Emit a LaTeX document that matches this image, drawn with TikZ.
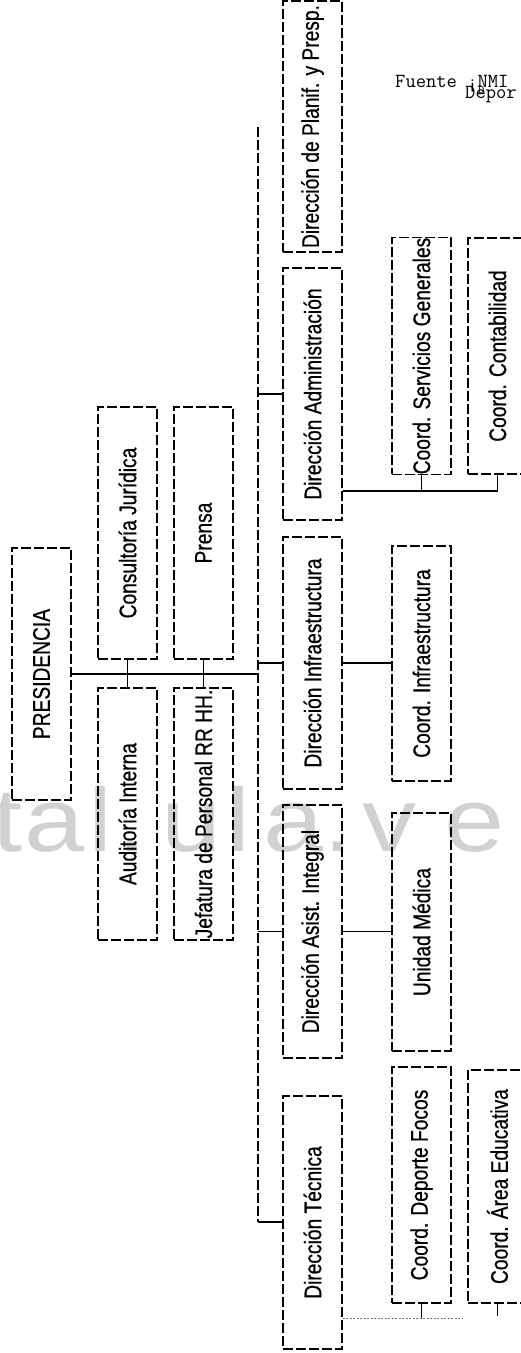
\documentclass[tikz,border=0pt]{standalone}
\usepackage{fontspec}
\setmainfont{Liberation Sans}
\newfontfamily\boxfont[FakeStretch=0.8,FakeBold=0.6]{Liberation Sans}
\newfontfamily\wmfont[FakeStretch=1.2]{Liberation Sans}
\newcommand\orgbox[6]{\node[box, minimum width={(#4)-(#2)}, minimum height={(#5)-(#3)}] (#1) at ({((#2)+(#4))/2},{((#3)+(#5))/2}) {\rotatebox{90}{#6}};}
\begin{document}
\begin{tikzpicture}[x=1pt,y=-1pt,
  box/.style={draw, dash pattern=on 10pt off 3pt, line width=1.2pt, inner sep=0pt,
    font=\boxfont\fontsize{24}{24}\selectfont},
  conn/.style={line width=1.4pt},
  busline/.style={line width=1.2pt, dash pattern=on 10pt off 3pt},
  wm/.style={anchor=base west, inner sep=0pt, text=black!18, font=\wmfont\fontsize{90}{90}\selectfont},
  src/.style={anchor=base west, inner sep=0pt, font=\ttfamily\addfontfeature{FakeBold=1.2}\fontsize{20}{20}\selectfont}]
\useasboundingbox (0,0) rectangle (521,1353);
\clip (0,0) rectangle (521,1353);
\fill[white] (0,0) rectangle (521,1353);
% watermark
\node[wm] (w1) at (-8,851) {t};
\node[wm] (w2) at (24,851) {a};
\node[wm] (w3) at (88,851) {l};
\node[wm] (w4) at (117,851) {.};
\node[wm] (w5) at (161,851) {u};
\node[wm] (w6) at (226,851) {l};
\node[wm] (w7) at (263,851) {a};
\node[wm] (w8) at (323,851) {.};
\node[wm] (w9) at (362,851) {v};
\node[wm] (w10) at (444,851) {e};
% source note
\node[src] (src1) at (395,87) {Fuente ¡NMI};
\node[src] (src2) at (465,98) {Depor};
\node[anchor=base west, inner sep=0pt, font=\ttfamily\fontsize{12}{12}\selectfont] (src3) at (478,93) {D};
% boxes
\orgbox{planif}{283}{1}{342}{252}{Dirección de Planif. y Presp.}
\orgbox{admin}{283}{268}{342}{520}{Dirección Administración}
\orgbox{servgen}{392}{238}{451}{474}{Coord. Servicios Generales}
\orgbox{contab}{468}{238}{527}{474}{Coord. Contabilidad}
\orgbox{presid}{12}{548}{71}{800}{PRESIDENCIA}
\orgbox{consult}{98}{407}{157}{659}{Consultoría Jurídica}
\orgbox{prensa}{174}{407}{233}{659}{Prensa}
\orgbox{audit}{98}{688}{157}{940}{Auditoría Interna}
\orgbox{jefat}{174}{688}{233}{940}{Jefatura de Personal RR HH.}
\orgbox{infra}{283}{537}{342}{789}{Dirección Infraestructura}
\orgbox{coordinfra}{392}{546}{451}{781}{Coord. Infraestructura}
\orgbox{asist}{283}{805}{342}{1058}{Dirección Asist. Integral}
\orgbox{unidad}{392}{813}{451}{1051}{Unidad Médica}
\orgbox{tecnica}{283}{1096}{342}{1349}{Dirección Técnica}
\orgbox{deporte}{392}{1067}{451}{1303}{Coord. Deporte Focos}
\orgbox{educ}{468}{1070}{527}{1303}{Coord. Área Educativa}
% bus
\coordinate (bustop) at (258,127);
\coordinate (busbot) at (258,1222);
\draw[busline] (bustop) -- (busbot);
\draw[conn] (bustop |- admin.west) -- (admin.west);
\draw[conn] (presid.east) -- (bustop |- presid.east);
\draw[conn] (consult.south) -- (audit.north);
\draw[conn] (prensa.south) -- (jefat.north);
\draw[conn] (bustop |- infra.west) -- (infra.west);
\draw[conn] (infra.east) -- (coordinfra.west |- infra.east);
\draw[conn] (bustop |- asist.west) -- (asist.west);
\draw[conn] (asist.east) -- (unidad.west |- asist.east);
\draw[conn] (busbot) -- (tecnica.west |- busbot);
% administration branch
\coordinate (aj) at (421.5,491);
\draw[conn] (admin.east |- aj) -- (contab.south |- aj);
\draw[conn] (servgen.south) -- (servgen.south |- aj);
\draw[conn] (contab.south) -- (contab.south |- aj);
% technical branch
\coordinate (tj) at (421.5,1318);
\coordinate (tend) at (462,1318);
\draw[line width=0.9pt, dash pattern=on 2pt off 1.5pt, black!55] (tecnica.east |- tj) -- (tend);
\draw[conn] (deporte.south) -- (deporte.south |- tj);
\draw[conn] (educ.south) -- ([yshift=-12pt]educ.south);
\end{tikzpicture}
\end{document}
